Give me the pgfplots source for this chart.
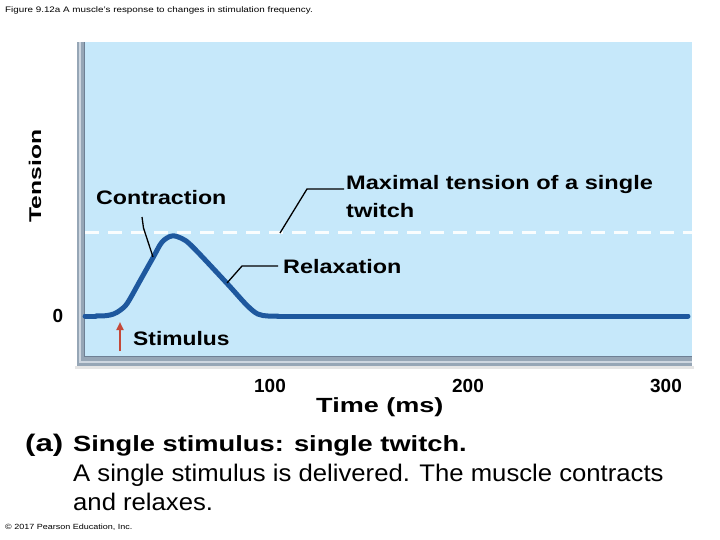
\documentclass[border=0pt]{standalone}
\usepackage{pgfplots}
\pgfplotsset{compat=1.18}
\usepackage{fontspec}
\setmainfont{Liberation Sans}
\usetikzlibrary{arrows.meta}

\definecolor{bgblue}{RGB}{198,232,250}
\definecolor{twitch}{RGB}{30,88,158}
\definecolor{frame}{RGB}{150,166,182}
\definecolor{framelt}{RGB}{205,214,224}
\definecolor{framedk}{RGB}{110,128,148}
\definecolor{stim}{RGB}{196,72,56}

% bold text, widened horizontally
\newcommand{\wb}[3]{\scalebox{#1}[1]{\fontsize{#2}{#2}\selectfont\bfseries #3}}
\newcommand{\wn}[3]{\scalebox{#1}[1]{\fontsize{#2}{#2}\selectfont #3}}

\begin{document}
\begin{tikzpicture}
\path[use as bounding box] (0,0) rectangle (720pt,-540pt);

% grey frame round the plot area
\begin{scope}[x=1pt,y=-1pt]
  \fill[black!10] (75,366) rectangle (694,369);
  \fill[frame] (77,42) rectangle (692,366);
  \draw[framelt, line width=2pt] (80,42) -- (80,362) -- (692,362);
  \draw[framedk, line width=1.2pt] (84.4,42) -- (84.4,356.6) -- (692,356.6);
\end{scope}

\begin{axis}[
  at={(85pt,-356pt)}, anchor=south west,
  scale only axis, width=607pt, height=314pt,
  xmin=6.566, xmax=313.13, ymin=-40, ymax=274,
  axis background/.style={fill=bgblue},
  axis line style={draw=none},
  major tick length=0pt,
  xtick={100,200,300}, ytick={0},
  /pgf/number format/assume math mode=true,
  xticklabel style={font=\fontsize{19}{19}\selectfont\bfseries, anchor=center, yshift=-29.5pt},
  yticklabel style={font=\fontsize{19}{19}\selectfont\bfseries, anchor=center, xshift=-27pt},
  clip=false,
]
  % maximal tension of a single twitch
  \addplot[white!92!bgblue, line width=2.5pt, dash pattern=on 14pt off 9pt]
    coordinates {(6.6,83.5) (313.1,83.5)};
  % single twitch: baseline, hump, baseline
  \addplot[twitch, line width=5pt, line cap=round] coordinates {(6.6,0) (12,0)};
  \addplot[twitch, line width=5pt, smooth, tension=0.55, line cap=round] coordinates {
    (12,0) (17,0.3) (21,2) (24.5,6) (28,13) (34.3,35) (41.1,59) (45.5,74)
    (50.4,80) (55.5,77.5) (61,69) (78.1,33) (88.2,11) (93.8,2) (99,0) (104,0)};
  \addplot[twitch, line width=5pt, line cap=round] coordinates {(104,0) (311.1,0)};
\end{axis}

\begin{scope}[x=1pt,y=-1pt, every node/.style={inner sep=0pt, anchor=base west}]
  % leaders
  \draw[line width=1.3pt] (142,217) -- (143.5,228) -- (153,257);
  \draw[line width=1.3pt] (344,189) -- (307,189) -- (280,233);
  \draw[line width=1.3pt] (278,266) -- (242,266) -- (227,283);
  \node at (96,205) {\wb{1.19}{19.5}{Contraction}};
  \node at (346,190) {\wb{1.21}{19.5}{Maximal tension of a single}};
  \node at (346,218) {\wb{1.21}{19.5}{twitch}};
  \node at (283,273) {\wb{1.2}{19.5}{Relaxation}};
  \node at (133,345) {\wb{1.17}{19.5}{Stimulus}};
  \draw[stim, line width=2pt, -{Triangle[length=8pt,width=7pt]}] (120,351) -- (120,322);
  \node at (316,412) {\wb{1.32}{20.5}{Time (ms)}};
  \node[rotate=90, anchor=base] at (41,176) {\wb{1.45}{17}{Tension}};
  % caption
  \node at (25,451) {\wb{1.3}{24}{(a)}};
  \node at (73,451) {\wb{1.24}{22}{Single stimulus: single twitch.}};
  \node at (73,481) {\wn{1.07}{24}{A single stimulus is delivered. The muscle contracts}};
  \node at (73,510) {\wn{1.07}{24}{and relaxes.}};
  \node at (5,13) {\wn{1.23}{8}{Figure 9.12a A muscle's response to changes in stimulation frequency.}};
  \node at (5,529) {\wn{1.2}{7.5}{\textcopyright{} 2017 Pearson Education, Inc.}};
\end{scope}
\end{tikzpicture}
\end{document}
